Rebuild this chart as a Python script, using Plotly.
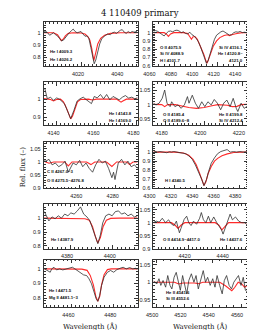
import plotly.graph_objects as go

W, H = 255, 330


def px(x):
    return x / W


def py(y):
    return 1 - y / H


TITLE = "4 110409 primary"
XLABEL = "Wavelength (Å)"
YLABEL = "Rel. flux (–)"

# ---------------- Panel 1 (left, row 1) ----------------
P1_WL = [4001, 4002, 4003, 4004, 4005, 4006, 4007, 4008, 4009, 4010, 4011, 4012, 4013, 4014, 4015,
         4016, 4017, 4018, 4019, 4020, 4021, 4022, 4023, 4024, 4025, 4026, 4026.7, 4027.5, 4028.5, 4029.5,
         4030.5, 4032, 4033.5, 4035, 4036, 4037, 4038, 4039, 4040, 4041, 4042, 4043, 4044, 4045, 4046,
         4047, 4048.5]
P1_OBS = [1.005, 1.012, 1.0, 0.98, 0.99, 1.0, 0.985, 0.975, 0.955, 0.935, 0.94, 0.96, 0.985, 1.0,
          1.015, 1.03, 1.01, 1.0, 1.005, 1.01, 0.99, 0.972, 0.975, 0.955, 0.88, 0.79, 0.75, 0.78, 0.85,
          0.91, 0.95, 0.975, 0.99, 0.985, 1.0, 1.005, 0.995, 1.01, 1.02, 1.025, 1.005, 0.995, 1.01, 1.0,
          1.01, 1.005, 1.01]
P1_MWL = [4001, 4006, 4008, 4009, 4010, 4011, 4012, 4013.5, 4016, 4020, 4022, 4023.5, 4024.5, 4025.5,
          4026.5, 4027.5, 4028.5, 4030, 4032, 4035, 4040, 4048.8]
P1_MOD = [1.0, 1.0, 0.985, 0.96, 0.937, 0.95, 0.975, 0.995, 1.0, 0.998, 0.99, 0.97, 0.94, 0.87, 0.775,
          0.84, 0.91, 0.955, 0.98, 0.995, 1.0, 1.0]
P1_YTICKS = [0.8, 0.9, 1.0]
P1_LINES = ["He I 4009.3", "He I 4026.2"]

# ---------------- Panel 2 (right, row 1) ----------------
P2_WL = [4060, 4062, 4064, 4066, 4068, 4070, 4072, 4074, 4076, 4078, 4080, 4082, 4084, 4086, 4088, 4090,
         4092, 4094, 4096, 4098, 4100, 4102, 4104, 4106, 4108, 4109.5, 4111, 4113, 4115, 4117, 4119, 4121,
         4123, 4125, 4127, 4129, 4131, 4133, 4135, 4137, 4139, 4141, 4143, 4145, 4147, 4148]
P2_OBS = [1.02, 1.025, 1.015, 1.0, 0.975, 0.96, 0.99, 1.015, 1.02, 1.01, 1.025, 1.03, 1.02, 1.0, 1.01,
          0.99, 0.985, 1.005, 0.975, 0.96, 0.93, 0.89, 0.83, 0.76, 0.68, 0.63, 0.66, 0.74, 0.84, 0.92,
          0.97, 0.995, 1.01, 1.02, 1.005, 0.99, 0.97, 0.975, 1.0, 1.01, 1.005, 1.015, 1.0, 1.005, 1.0,
          1.01]
P2_MWL = [4060, 4070, 4072, 4074, 4076, 4079, 4088, 4092, 4094, 4095.5, 4097, 4099, 4101, 4104, 4107,
          4109, 4110, 4111, 4113, 4116, 4119, 4122, 4126, 4129, 4131, 4133, 4138, 4143, 4148]
P2_MOD = [1.0, 1.0, 0.985, 0.955, 0.985, 1.0, 1.0, 0.99, 0.95, 0.92, 0.95, 0.95, 0.92, 0.84, 0.74, 0.66,
          0.63, 0.66, 0.74, 0.84, 0.9, 0.94, 0.965, 0.975, 0.965, 0.975, 0.99, 1.0, 1.0]
P2_YTICKS = [0.6, 0.7, 0.8, 0.9, 1.0]
P2_LINES_L = ["O II 4075.9", "Si IV 4088.9", "H I 4101.7"]
P2_LINES_R = ["Si IV 4116.1", "He I 4120.8–", "4121.0"]

# ---------------- Panel 3 (left, row 2) ----------------
P3_WL = [4134.2, 4135.4, 4137, 4138.5, 4140.1, 4141.7, 4144, 4145.6, 4147.1, 4148.7, 4150.3, 4151.8,
         4153.4, 4155, 4156.5, 4157.5, 4158.9, 4160.4, 4162, 4163.6, 4165.1, 4166.7, 4168.3, 4169.8,
         4171.4, 4173, 4174.5, 4176.1, 4177.7, 4179.2, 4180.6]
P3_OBS = [1.057, 1.002, 1.011, 0.993, 1.007, 0.998, 0.974, 0.928, 0.891, 0.937, 0.989, 1.002, 1.011,
          0.996, 0.983, 0.975, 1.015, 1.007, 1.026, 1.002, 1.026, 0.996, 1.015, 1.006, 0.996, 1.011,
          1.02, 1.006, 1.011, 1.002, 1.008]
P3_MWL = [4133.6, 4137, 4138.5, 4140, 4142, 4143.5, 4145, 4146.2, 4147.1, 4148, 4149.2, 4150.5, 4152,
          4156, 4158, 4160, 4170, 4171.5, 4172.3, 4173.2, 4175, 4180.6]
P3_MOD = [1.003, 0.998, 0.99, 0.998, 1.0, 0.985, 0.95, 0.91, 0.89, 0.905, 0.95, 0.985, 0.998, 1.0,
          0.995, 1.0, 1.0, 0.99, 0.983, 0.99, 1.0, 1.0]
P3_YTICKS = [0.9, 1.0]
P3_LINES = ["He I 4143.8", "He I 4169.0"]

# ---------------- Panel 4 (right, row 2) ----------------
P4_WL = [4173.6, 4175.0, 4176.6, 4178.2, 4179.5, 4180.7, 4182.3, 4183.1, 4184.8, 4186.4, 4188.0,
         4189.7, 4191.3, 4192.1, 4193.8, 4195.4, 4197.0, 4198.7, 4200.3, 4201.9, 4203.6, 4205.2,
         4206.8, 4208.5, 4210.1, 4211.7, 4213.4, 4215.0, 4216.6, 4217.4, 4219.1, 4220.7, 4222.4]
P4_OBS = [1.005, 0.999, 1.005, 1.022, 1.051, 1.005, 0.993, 1.010, 0.993, 0.999, 0.987, 0.999, 1.028,
          1.005, 1.033, 1.005, 0.987, 1.010, 0.993, 1.010, 0.999, 1.018, 1.005, 0.982, 1.005, 1.016,
          0.993, 1.022, 0.987, 0.976, 1.005, 0.987, 0.995]
P4_MWL = [4173.6, 4178, 4179.5, 4181, 4185, 4188, 4192, 4196, 4200, 4204, 4207, 4212, 4214.5, 4217,
          4219, 4222.5]
P4_MOD = [1.001, 1.0, 0.993, 1.0, 1.0, 0.995, 0.99, 0.987, 0.99, 0.996, 1.0, 0.998, 0.993, 0.994,
          1.0, 1.001]
P4_YTICKS = [0.95, 1.0, 1.05]
P4_LINES_L = ["O II 4185.4", "O II 4189.6–8"]
P4_LINES_R = ["He II 4199.8", "Si IV 4212.4"]

# ---------------- Panel 5 (left, row 3) ----------------
P5_WL = [4240.5, 4241.6, 4243.4, 4245.1, 4246.9, 4248.7, 4250.4, 4252.2, 4254.0, 4254.9, 4256.6,
         4258.4, 4260.2, 4261.9, 4263.7, 4265.5, 4267.3, 4269.0, 4270.8, 4272.6, 4274.3, 4276.1,
         4277.9, 4278.8, 4279.6, 4281.4, 4283.2, 4285.0, 4286.7, 4288.5, 4290.3, 4292]
P5_OBS = [1.01, 1.003, 1.01, 0.989, 0.996, 0.982, 0.989, 1.003, 0.961, 0.975, 0.996, 0.989, 1.006,
          0.982, 0.996, 0.975, 0.961, 0.989, 1.01, 0.996, 1.003, 0.975, 0.94, 0.961, 0.933, 0.996,
          1.01, 0.989, 1.003, 0.982, 0.989, 0.975]
P5_MWL = [4240.5, 4243.4, 4246, 4252, 4254, 4256, 4264, 4266.4, 4268.5, 4275, 4277.9, 4280.5, 4286,
          4287.6, 4289.5, 4292]
P5_MOD = [1.003, 0.995, 1.0, 1.0, 0.985, 1.0, 1.0, 0.99, 1.0, 1.0, 0.983, 1.0, 1.0, 0.99, 1.0, 1.0]
P5_YTICKS = [0.9, 0.95, 1.0, 1.05]
P5_LINES = ["C II 4267.0–3", "O II 4275.5–4276.8"]

# ---------------- Panel 6 (right, row 3) ----------------
P6_WL = [4300, 4303.6, 4306, 4308, 4310, 4312.5, 4315, 4316.9, 4319, 4321.4, 4323.5, 4325.8,
         4328, 4330.3, 4333.2, 4336.2, 4339.2, 4342.1, 4345.1, 4347.2, 4349.6, 4351.6, 4354, 4357,
         4359.9, 4362.9, 4365.9, 4368.8, 4371.8, 4374.8, 4377.7, 4380.7, 4383.7, 4386.6, 4388]
P6_OBS = [1.017, 1.0, 1.006, 1.0, 0.995, 0.993, 1.004, 1.0, 1.006, 1.0, 1.003, 0.993, 0.99, 0.982,
          0.957, 0.921, 0.857, 0.787, 0.698, 0.628, 0.698, 0.787, 0.876, 0.936, 0.982, 1.006, 1.017,
          1.028, 1.0, 1.006, 1.0, 1.006, 1.0, 1.0, 1.004]
P6_MWL = [4300, 4320, 4328, 4333, 4337, 4340, 4343, 4345.5, 4347.2, 4349, 4351, 4354, 4357, 4360,
          4364, 4369, 4375, 4382, 4388]
P6_MOD = [1.0, 1.0, 0.99, 0.965, 0.92, 0.86, 0.77, 0.68, 0.63, 0.67, 0.76, 0.84, 0.9, 0.93, 0.96,
          0.98, 0.995, 1.0, 1.0]
P6_YTICKS = [0.6, 0.7, 0.8, 0.9, 1.0]
P6_LINES = ["H I 4340.5"]

# ---------------- Panel 7 (left, row 4) ----------------
P7_WL = [4368, 4370.1, 4371.6, 4373.0, 4374.5, 4376.0, 4377.5, 4379.0, 4380.4, 4381.9, 4383.4,
         4384.9, 4386.4, 4387.9, 4389.3, 4390.8, 4392.3, 4393.0, 4394.2, 4395.3, 4396.7, 4398.2,
         4399.7, 4401.2, 4402.7, 4404.1, 4405.6, 4407.1, 4408.6, 4410.1, 4411.6]
P7_OBS = [1.047, 0.98, 1.009, 0.995, 1.017, 1.0, 1.029, 1.017, 1.038, 1.029, 1.052, 1.081, 1.029,
          1.009, 0.98, 0.909, 0.836, 0.816, 0.879, 0.966, 1.017, 1.029, 1.017, 1.047, 1.052, 1.029,
          1.038, 1.017, 1.029, 1.009, 1.017]
P7_MWL = [4367.7, 4384, 4387, 4389, 4390.5, 4391.8, 4393, 4394.2, 4395.5, 4397, 4399, 4403, 4411.6]
P7_MOD = [1.0, 1.0, 0.995, 0.985, 0.94, 0.87, 0.82, 0.86, 0.94, 0.985, 0.998, 1.0, 1.0]
P7_YTICKS = [0.8, 0.9, 1.0]
P7_LINES = ["He I 4387.9"]

# ---------------- Panel 8 (right, row 4) ----------------
P8_WL = [4401.5, 4403.0, 4404.6, 4406.2, 4407.9, 4409.5, 4411.1, 4412.4, 4413.6, 4414.4, 4415.2,
         4416.0, 4417.7, 4419.0, 4420.1, 4421.3, 4422.6, 4424.2, 4425.8, 4426.7, 4427.8, 4429.1,
         4430.4, 4431.6, 4433.2, 4434.8, 4436.0, 4437.3, 4438.1, 4439.2, 4440.5, 4441.8, 4443.0,
         4444.6, 4446.3, 4447.9, 4449.5, 4451]
P8_OBS = [1.0, 1.006, 1.002, 1.017, 1.0, 1.011, 0.994, 0.989, 1.006, 0.98, 0.961, 0.978, 1.013,
          1.025, 1.0, 0.989, 1.006, 0.994, 1.017, 1.039, 1.011, 1.0, 1.025, 1.0, 1.022, 1.0, 0.987,
          0.972, 0.956, 0.978, 1.011, 1.033, 1.011, 1.022, 1.006, 1.0, 1.0, 0.989]
P8_MWL = [4401.5, 4411, 4413, 4414.5, 4416, 4418, 4434, 4436, 4437.5, 4439, 4441, 4451]
P8_MOD = [1.0, 1.0, 0.99, 0.978, 0.99, 1.0, 1.0, 0.99, 0.972, 0.985, 1.0, 1.0]
P8_YTICKS = [0.9, 0.95, 1.0, 1.05]
P8_LINES_L = ["O II 4414.9–4417.0"]
P8_LINES_R = ["He I 4437.6"]

# ---------------- Panel 9 (left, row 5) ----------------
P9_WL = [4447.2, 4448.4, 4449.9, 4450.6, 4451.7, 4452.9, 4454.4, 4455.9, 4457.5, 4459.0, 4460.5,
         4461.7, 4462.8, 4464.3, 4465.8, 4467.3, 4468.4, 4469.6, 4470.8, 4471.8, 4472.6, 4473.5,
         4474.4, 4475.6, 4477.2, 4478.7, 4480.2, 4481.7, 4483.2, 4484.7, 4486.2, 4487.8, 4489.3,
         4490.8, 4491.6]
P9_OBS = [1.0, 0.989, 0.977, 1.0, 1.011, 0.993, 1.0, 0.993, 1.0, 1.004, 1.011, 1.0, 0.989, 0.977,
          0.959, 0.954, 0.932, 0.898, 0.841, 0.796, 0.778, 0.818, 0.886, 0.943, 0.977, 0.989, 0.977,
          0.995, 1.004, 1.011, 1.0, 1.009, 1.0, 1.004, 0.995]
P9_MWL = [4446.8, 4460, 4465, 4467.5, 4469, 4470.5, 4471.7, 4472.6, 4473.5, 4474.4, 4475.6, 4477.2,
          4479, 4491.6]
P9_MOD = [1.0, 1.0, 0.998, 0.99, 0.955, 0.89, 0.81, 0.778, 0.81, 0.89, 0.96, 0.995, 1.0, 1.0]
P9_YTICKS = [0.8, 0.9, 1.0]
P9_LINES = ["He I 4471.5", "Mg II 4481.1–3"]

# ---------------- Panel 10 (right, row 5) ----------------
P10_WL = [4498.2, 4500.4, 4502.0, 4503.3, 4504.9, 4506.7, 4508.2, 4509.8, 4511.1, 4512.7, 4514.2, 4515.6,
          4517.1, 4518.7, 4520.0, 4521.6, 4523.1, 4524.9, 4526.7, 4528.2, 4529.8, 4531.6, 4533.3,
          4534.9, 4536.4, 4538.2, 4540.0, 4541.6, 4543.1, 4544.9, 4546.7, 4548.2, 4549.8, 4551.6,
          4553.3, 4554.9, 4556.4, 4558.2, 4560.0, 4561.6, 4563.1, 4564.6]
P10_OBS = [1.004, 0.995, 1.01, 0.991, 1.005, 0.986, 1.019, 0.991, 0.981, 1.014, 1.028, 1.0, 0.977, 1.019,
           0.991, 0.967, 1.005, 1.024, 1.0, 1.019, 0.981, 1.01, 1.033, 1.0, 1.014, 0.991, 1.01, 0.986,
           1.019, 0.991, 0.967, 1.005, 1.019, 0.991, 0.981, 1.0, 1.01, 1.019, 0.991, 1.014, 0.977,
           0.972]
P10_MWL = [4498, 4513, 4516, 4519, 4527, 4530, 4533, 4545, 4549, 4552, 4553.5, 4555.5, 4558, 4560.5,
           4562.5, 4564.7]
P10_MOD = [1.0, 1.0, 0.995, 0.998, 0.998, 0.996, 1.0, 1.0, 0.99, 0.98, 0.976, 0.985, 1.0, 0.995,
           0.986, 0.992]
P10_YTICKS = [0.95, 1.0, 1.05]
P10_LINES = ["He II 4541.6", "Si III 4552.6"]

# ---------------- layout geometry ----------------
COLS = {"L": (27, 125.5), "R": (142, 241)}
ROWS = [(14, 58.5), (75, 118), (135.5, 182), (197.5, 243), (254, 302)]

panels = [
    dict(col="L", row=0, wl=P1_WL, obs=P1_OBS, mwl=P1_MWL, mod=P1_MOD, xr=[4001, 4048.8], yr=[0.732, 1.088],
         yt=P1_YTICKS, xminor=2, yminor=0.02),
    dict(col="R", row=0, wl=P2_WL, obs=P2_OBS, mwl=P2_MWL, mod=P2_MOD, xr=[4059.9, 4148], yr=[0.598, 1.13],
         yt=P2_YTICKS, xminor=5, yminor=0.02),
    dict(col="L", row=1, wl=P3_WL, obs=P3_OBS, mwl=P3_MWL, mod=P3_MOD, xr=[4133.6, 4180.6], yr=[0.856, 1.094],
         yt=P3_YTICKS, xminor=2, yminor=0.02),
    dict(col="R", row=1, wl=P4_WL, obs=P4_OBS, mwl=P4_MWL, mod=P4_MOD, xr=[4173.6, 4222.5], yr=[0.929, 1.078],
         yt=P4_YTICKS, xminor=2, yminor=0.01),
    dict(col="L", row=2, wl=P5_WL, obs=P5_OBS, mwl=P5_MWL, mod=P5_MOD, xr=[4240.5, 4292], yr=[0.8995, 1.075],
         yt=P5_YTICKS, xminor=2, yminor=0.01),
    dict(col="R", row=2, wl=P6_WL, obs=P6_OBS, mwl=P6_MWL, mod=P6_MOD, xr=[4299.9, 4388], yr=[0.598, 1.109],
         yt=P6_YTICKS, xminor=5, yminor=0.02),
    dict(col="L", row=3, wl=P7_WL, obs=P7_OBS, mwl=P7_MWL, mod=P7_MOD, xr=[4367.7, 4411.6], yr=[0.779, 1.104],
         yt=P7_YTICKS, xminor=2, yminor=0.02),
    dict(col="R", row=3, wl=P8_WL, obs=P8_OBS, mwl=P8_MWL, mod=P8_MOD, xr=[4401.5, 4451], yr=[0.8995, 1.073],
         yt=P8_YTICKS, xminor=2, yminor=0.01),
    dict(col="L", row=4, wl=P9_WL, obs=P9_OBS, mwl=P9_MWL, mod=P9_MOD, xr=[4446.8, 4491.6], yr=[0.737, 1.063],
         yt=P9_YTICKS, xminor=2, yminor=0.02),
    dict(col="R", row=4, wl=P10_WL, obs=P10_OBS, mwl=P10_MWL, mod=P10_MOD, xr=[4498, 4564.7],
         yr=[0.929, 1.064], yt=P10_YTICKS, xminor=5, yminor=0.01),
]

AXCOL = "#333333"
TICKFONT = dict(family="Liberation Sans, Arial, sans-serif", size=5.5, color="#222222")

fig = go.Figure()
layout = dict(
    width=W, height=H, margin=dict(l=0, r=0, t=0, b=0),
    paper_bgcolor="white", plot_bgcolor="white", showlegend=False,
)

for i, p in enumerate(panels):
    n = i + 1
    xa = "x" if n == 1 else f"x{n}"
    ya = "y" if n == 1 else f"y{n}"
    fig.add_trace(go.Scatter(x=p["mwl"], y=p["mod"], mode="lines", xaxis=xa, yaxis=ya,
                             line=dict(color="#ff2a2a", width=1.1), hoverinfo="skip"))
    fig.add_trace(go.Scatter(x=p["wl"], y=p["obs"], mode="lines", xaxis=xa, yaxis=ya,
                             line=dict(color="#303030", width=0.8), hoverinfo="skip"))
    x0, x1 = COLS[p["col"]]
    t, b = ROWS[p["row"]]
    shift = -3 if p["col"] == "L" else -4
    layout["xaxis" if n == 1 else f"xaxis{n}"] = dict(
        domain=[px(x0), px(x1)], range=p["xr"], anchor=ya, dtick=20, tick0=0,
        ticks="inside", ticklen=3.5, tickwidth=0.8, tickcolor=AXCOL, mirror="ticks",
        showline=True, linecolor=AXCOL, linewidth=1, showgrid=False, zeroline=False,
        tickfont=TICKFONT, ticklabelshift=shift, ticklabelstandoff=2,
        minor=dict(ticks="inside", ticklen=1.8, tickwidth=0.6, tickcolor=AXCOL, dtick=p["xminor"]),
    )
    layout["yaxis" if n == 1 else f"yaxis{n}"] = dict(
        domain=[py(b), py(t)], range=p["yr"], anchor=xa, tickmode="array", tickvals=p["yt"],
        ticks="inside", ticklen=3.5, tickwidth=0.8, tickcolor=AXCOL, mirror="ticks",
        showline=True, linecolor=AXCOL, linewidth=1, showgrid=False, zeroline=False,
        tickfont=TICKFONT, ticklabelstandoff=1,
        minor=dict(ticks="inside", ticklen=1.8, tickwidth=0.6, tickcolor=AXCOL, tickmode="linear",
                   tick0=0, dtick=p["yminor"]),
    )

LABFONT = dict(family="Liberation Sans, Arial, sans-serif", size=4.3, color="#111111")
ann = []


def lab(text, x, y, anchor):
    ann.append(dict(text="<b>" + text + "</b>", x=px(x), y=py(y), xref="paper", yref="paper",
                    xanchor=anchor, yanchor="middle", showarrow=False, font=LABFONT))


lab(P1_LINES[0], 31, 43.5, "left")
lab(P1_LINES[1], 31, 52, "left")
for k, s in enumerate(P2_LINES_L):
    lab(s, 147, 39.5 + 6.8 * k, "left")
for k, s in enumerate(P2_LINES_R):
    lab(s, 238, 39.5 + 6.8 * k, "right")
lab(P3_LINES[0], 122, 106.5, "right")
lab(P3_LINES[1], 122, 113.5, "right")
lab(P4_LINES_L[0], 150, 107, "left")
lab(P4_LINES_L[1], 150, 114, "left")
lab(P4_LINES_R[0], 238, 107, "right")
lab(P4_LINES_R[1], 238, 114, "right")
lab(P5_LINES[0], 28, 165.5, "left")
lab(P5_LINES[1], 28, 174, "left")
lab(P6_LINES[0], 152, 174, "left")
lab(P7_LINES[0], 33, 234, "left")
lab(P8_LINES_L[0], 150, 234, "left")
lab(P8_LINES_R[0], 238, 234, "right")
lab(P9_LINES[0], 30, 285.5, "left")
lab(P9_LINES[1], 30, 292.5, "left")
lab(P10_LINES[0], 153, 287, "left")
lab(P10_LINES[1], 153, 293.5, "left")

SERIF = "DejaVu Serif, serif"
ann.append(dict(text=TITLE, x=px(128), y=py(5.5), xref="paper", yref="paper", showarrow=False,
                xanchor="center", yanchor="middle", font=dict(family=SERIF, size=8.5, color="#111111")))
ann.append(dict(text=XLABEL, x=px(76), y=py(321.5), xref="paper", yref="paper", showarrow=False,
                xanchor="center", yanchor="middle", font=dict(family=SERIF, size=7, color="#111111")))
ann.append(dict(text=XLABEL, x=px(191), y=py(321.5), xref="paper", yref="paper", showarrow=False,
                xanchor="center", yanchor="middle", font=dict(family=SERIF, size=7, color="#111111")))
ann.append(dict(text=YLABEL, x=px(5), y=py(160), xref="paper", yref="paper", showarrow=False,
                textangle=-90, xanchor="center", yanchor="middle",
                font=dict(family=SERIF, size=7, color="#111111")))
layout["annotations"] = ann

fig.update_layout(**layout)
fig.write_html("out.html", config={"displayModeBar": False})
